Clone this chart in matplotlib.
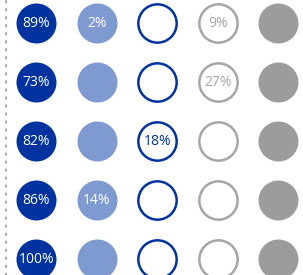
import numpy as np
import matplotlib
matplotlib.use("Agg")
from matplotlib import pyplot as plt

plt.rcParams['font.family'] = ['Open Sans', 'DejaVu Sans']

# one list per column of circles, top row first; '' means no label
col_dark = ["89%", "73%", "82%", "86%", "100%"]
col_light = ["2%", "", "", "14%", ""]
col_ring_blue = ["", "", "18%", "", ""]
col_ring_gray = ["9%", "27%", "", "", ""]
col_gray = ["", "", "", "", ""]

DARK = "#0033a0"
LIGHT = "#7f99d1"
GRAY = "#9c9c9f"
RING_GRAY = "#a6a6a6"

# (labels, face, edge, text colour)
columns = [
    (col_dark, DARK, DARK, "white"),
    (col_light, LIGHT, LIGHT, "white"),
    (col_ring_blue, "white", DARK, DARK),
    (col_ring_gray, "white", RING_GRAY, RING_GRAY),
    (col_gray, GRAY, GRAY, "white"),
]

fig = plt.figure(figsize=(3.03, 2.75), dpi=100)
ax = fig.add_axes([0, 0, 1, 1])

rows = np.arange(len(col_dark))
for i, (labels, face, edge, tcol) in enumerate(columns):
    xs = np.full(len(rows), i)
    filled = face != "white"
    ax.scatter(xs, rows, s=(28.8 if filled else 27.6) ** 2, c=face,
               edgecolors=edge, linewidths=0 if filled else 1.8, zorder=2)
    for r, lab in zip(rows, labels):
        if lab:
            ax.text(i, r, lab, ha="center", va="center", color=tcol,
                    fontsize=10, zorder=3)

ax.axvline(-0.5, color="#a8a8a8", lw=1.5, dashes=(0.6, 3.25),
           dash_capstyle="round", zorder=1)

# 60.5 px per column, 59 px per row
ax.set_xlim(-0.603, -0.603 + 303 / 60.5)
ax.set_ylim(-0.39 + 275 / 59, -0.39)
ax.axis("off")

fig.savefig("out.png", dpi=100)
